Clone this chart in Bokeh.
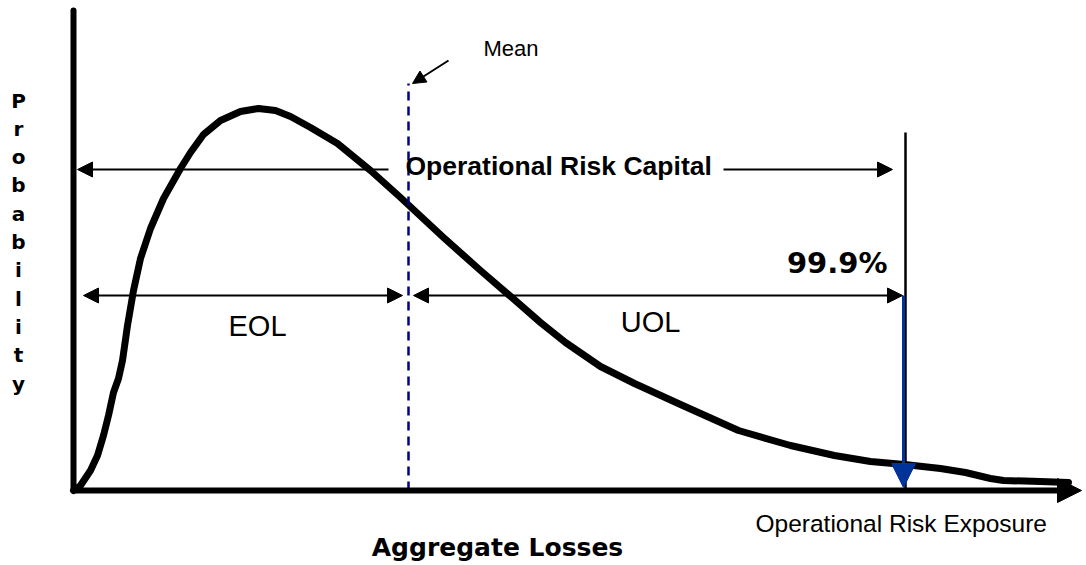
from bokeh.plotting import figure
from bokeh.models import Range1d, Arrow, NormalHead, Label, ColumnDataSource
from bokeh.core.properties import value
from bokeh.embed import file_html
from bokeh.resources import INLINE

# ---- data (loss on x, probability density on y; origin at axes crossing) ----
curve_loss = [0, 7, 17, 24, 30, 35, 40, 45, 49, 54, 60, 67, 77, 90, 107, 117, 130, 147, 167,
              185, 202, 217, 237, 264, 297, 327, 370, 407, 436, 467, 492, 527, 561, 607, 665,
              717, 761, 797, 831, 867, 892, 917, 930, 967, 995]
curve_density = [0, 5, 20, 35, 55, 75, 98, 112, 130, 165, 200, 232, 262, 292, 322, 338, 356,
                 370, 379, 382, 380, 374, 363, 347, 320, 293, 253, 220, 195, 168, 148, 124,
                 107, 86, 60, 45, 35, 29, 26, 22, 18, 12, 10, 9, 8]
mean_loss = 335
var_loss = 831          # 99.9% quantile
capital_level = 321
eol_uol_level = 195
y_letters = list("Probability")

p = figure(width=1086, height=565, x_range=Range1d(-73, 1013), y_range=Range1d(-75, 490),
           output_backend="svg", toolbar_location=None, min_border=0,
           x_axis_type=None, y_axis_type=None)
p.grid.visible = False
p.outline_line_color = None
p.background_fill_color = "white"

# axes
p.line([0, 0], [0, 480], line_width=6, line_color="black", line_cap="round")
p.add_layout(Arrow(x_start=0, y_start=0, x_end=1008, y_end=0, line_width=6, line_color="black",
                   end=NormalHead(size=24, fill_color="black", line_color="black", line_width=1)))

# distribution curve
p.line(curve_loss, curve_density, line_width=7, line_color="black", line_join="round", line_cap="round")

# mean dashed line
p.line([mean_loss, mean_loss], [0, 407], line_width=2.5, line_color="#000088", line_dash="9 6")
p.add_layout(Arrow(x_start=mean_loss + 40, y_start=430, x_end=mean_loss + 4, y_end=407,
                   line_width=2, line_color="black",
                   end=NormalHead(size=13, fill_color="black", line_color="black", line_width=1)))
p.add_layout(Label(x=mean_loss + 75, y=442, text="Mean", text_font="Liberation Sans",
                   text_font_size="22px", text_color="black",
                   text_align="left", text_baseline="middle"))

# VaR line
p.line([var_loss + 1, var_loss + 1], [0, 358], line_width=2.5, line_color="black")
p.add_layout(Arrow(x_start=var_loss - 1, y_start=eol_uol_level, x_end=var_loss - 1, y_end=3,
                   line_width=3, line_color="#003399",
                   end=NormalHead(size=24, fill_color="#003399", line_color="#003399", line_width=1)))

# Operational Risk Capital arrows
p.add_layout(Arrow(x_start=315, y_start=capital_level, x_end=4, y_end=capital_level,
                   line_width=2, line_color="black",
                   end=NormalHead(size=15, fill_color="black", line_color="black", line_width=1)))
p.add_layout(Arrow(x_start=650, y_start=capital_level, x_end=var_loss - 12, y_end=capital_level,
                   line_width=2, line_color="black",
                   end=NormalHead(size=15, fill_color="black", line_color="black", line_width=1)))
p.add_layout(Label(x=mean_loss - 3, y=capital_level + 4, text="Operational Risk Capital",
                   text_font="Liberation Sans", text_font_style="bold", text_font_size="26.5px",
                   text_color="black", text_align="left", text_baseline="middle"))

# EOL / UOL arrows
p.add_layout(Arrow(x_start=10, y_start=eol_uol_level, x_end=mean_loss - 6, y_end=eol_uol_level,
                   line_width=2, line_color="black",
                   start=NormalHead(size=15, fill_color="black", line_color="black", line_width=1),
                   end=NormalHead(size=15, fill_color="black", line_color="black", line_width=1)))
p.add_layout(Arrow(x_start=mean_loss + 5, y_start=eol_uol_level, x_end=var_loss - 2, y_end=eol_uol_level,
                   line_width=2, line_color="black",
                   start=NormalHead(size=15, fill_color="black", line_color="black", line_width=1),
                   end=NormalHead(size=15, fill_color="black", line_color="black", line_width=1)))
p.add_layout(Label(x=184, y=165, text="EOL", text_font="Liberation Sans", text_font_size="29px",
                   text_color="black", text_align="center", text_baseline="middle"))
p.add_layout(Label(x=577, y=169, text="UOL", text_font="Liberation Sans", text_font_size="29px",
                   text_color="black", text_align="center", text_baseline="middle"))
p.add_layout(Label(x=var_loss - 17, y=228, text="99.9%", text_font="DejaVu Sans",
                   text_font_style="bold", text_font_size="29px", text_color="black",
                   text_align="right", text_baseline="middle"))

# axis titles
p.add_layout(Label(x=682, y=-33, text="Operational Risk Exposure", text_font="Liberation Sans",
                   text_font_size="24.5px", text_color="black",
                   text_align="left", text_baseline="middle"))
p.add_layout(Label(x=424, y=-57, text="Aggregate Losses", text_font="DejaVu Sans",
                   text_font_style="bold", text_font_size="25px", text_color="black",
                   text_align="center", text_baseline="middle"))

letter_src = ColumnDataSource(dict(
    x=[-55] * len(y_letters),
    y=[390 - 28.3 * i for i in range(len(y_letters))],
    t=y_letters))
p.text(x="x", y="y", text="t", source=letter_src, text_font=value("DejaVu Sans"),
       text_font_style="bold", text_font_size="20px", text_color="black",
       text_align="center", text_baseline="middle")

open("out.html", "w").write(file_html(p, INLINE))
